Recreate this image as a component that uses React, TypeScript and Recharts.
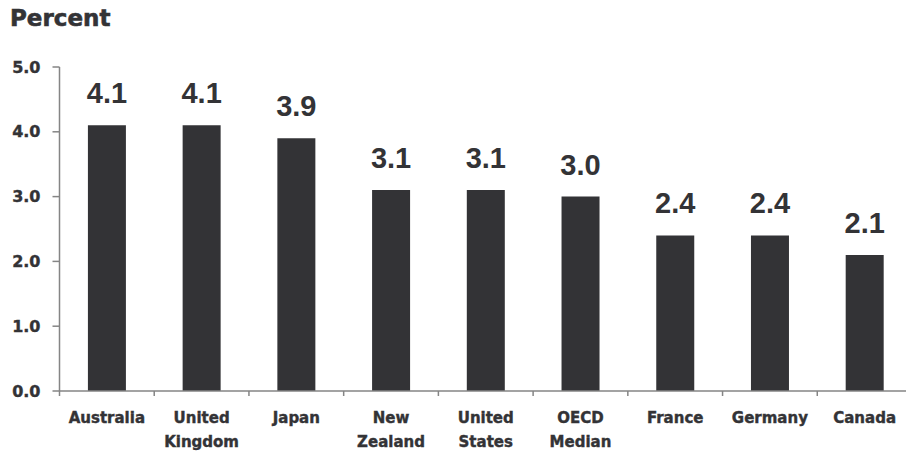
import React from 'react';
import { BarChart, Bar, XAxis, YAxis, LabelList } from 'recharts';

const categories = [
  'Australia',
  'United Kingdom',
  'Japan',
  'New Zealand',
  'United States',
  'OECD Median',
  'France',
  'Germany',
  'Canada',
];
const values = [4.1, 4.1, 3.9, 3.1, 3.1, 3.0, 2.4, 2.4, 2.1];
const yTicks = [0, 1, 2, 3, 4, 5];

const data = categories.map((name, i) => ({ name, value: values[i] }));

const CHART_W = 912;
const CHART_H = 451;
const X_AXIS_H = 60;
const Y_AXIS_W = 59.5;
const BAND = (CHART_W - Y_AXIS_W) / categories.length;
const AXIS_Y = CHART_H - X_AXIS_H;

const INK = '#333336';
const AXIS = '#858585';
const AXIS_FONT = '"DejaVu Sans", sans-serif';

// two-line category label plus a small tick at the left edge of each band
function CategoryTick(props: any) {
  const { x, payload, index } = props;
  const words: string[] = String(payload.value).split(' ');
  const left = x - BAND / 2;
  return (
    <g>
      <line x1={left} x2={left} y1={AXIS_Y} y2={AXIS_Y + 5} stroke={AXIS} strokeWidth={1.5} />
      {index === categories.length - 1 && (
        <line x1={x + BAND / 2} x2={x + BAND / 2} y1={AXIS_Y} y2={AXIS_Y + 5} stroke={AXIS} strokeWidth={1.5} />
      )}
      <text
        x={x}
        y={AXIS_Y + 32}
        textAnchor="middle"
        fill={INK}
        stroke={INK}
        strokeWidth={0.4}
        fontFamily={AXIS_FONT}
        fontWeight="bold"
        fontSize={15}
      >
        {words.map((w, i) => (
          <tspan key={i} x={x} dy={i === 0 ? 0 : 24}>
            {w}
          </tspan>
        ))}
      </text>
    </g>
  );
}

export default function App() {
  return (
    <div style={{ position: 'relative', width: 906, height: 451, overflow: 'hidden', background: '#fff' }}>
      <style>{'html,body{margin:0;padding:0;}'}</style>
      <div
        style={{
          position: 'absolute',
          left: 10,
          top: 7,
          fontFamily: AXIS_FONT,
          fontWeight: 'bold',
          fontSize: 23,
          lineHeight: '23px',
          color: INK,
          WebkitTextStroke: '0.6px ' + INK,
          zIndex: 1,
        }}
      >
        Percent
      </div>
      <BarChart
        width={CHART_W}
        height={CHART_H}
        data={data}
        margin={{ top: 67, right: 0, bottom: 0, left: 0 }}
        barCategoryGap="30%"
      >
        <XAxis
          dataKey="name"
          height={X_AXIS_H}
          interval={0}
          tickLine={false}
          axisLine={{ stroke: AXIS, strokeWidth: 1.5 }}
          tick={<CategoryTick />}
        />
        <YAxis
          width={Y_AXIS_W}
          domain={[0, 5]}
          ticks={yTicks}
          interval={0}
          tickSize={7}
          tickMargin={12}
          tickFormatter={(v: number) => v.toFixed(1)}
          axisLine={{ stroke: AXIS, strokeWidth: 1.5 }}
          tickLine={{ stroke: AXIS, strokeWidth: 1.5 }}
          tick={{ fill: INK, stroke: INK, strokeWidth: 0.4, fontFamily: AXIS_FONT, fontWeight: 'bold', fontSize: 16 }}
        />
        <Bar dataKey="value" fill={INK} isAnimationActive={false}>
          <LabelList
            dataKey="value"
            position="top"
            offset={22}
            formatter={(v: any) => Number(v).toFixed(1)}
            style={{
              fill: INK,
              fontFamily: '"Liberation Sans", Arial, sans-serif',
              fontWeight: 'bold',
              fontSize: 29,
            }}
          />
        </Bar>
      </BarChart>
    </div>
  );
}
